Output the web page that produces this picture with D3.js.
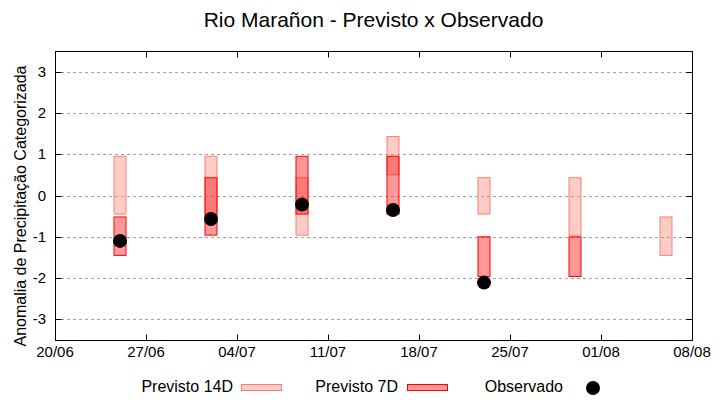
<!DOCTYPE html>
<html>
<head>
<meta charset="utf-8">
<script src="https://cdn.jsdelivr.net/npm/d3@7"></script>
<style>
  body { margin: 0; background: #fff; }
  text { font-family: "Liberation Sans", Arial, sans-serif; fill: #000; }
</style>
</head>
<body>
<div id="chart"></div>
<script>
// Forecast weeks (one bar group per week)
const dates = ["2025-06-25", "2025-07-02", "2025-07-09", "2025-07-16", "2025-07-23", "2025-07-30", "2025-08-06"];

// Previsto 14D range (top / bottom)
const prev14Top = [0.95, 0.95, 0.43, 1.43, 0.43, 0.43, -0.52];
const prev14Bot = [-0.45, -0.45, -0.96, 0.50, -0.45, -0.96, -1.45];

// Previsto 7D range (top / bottom)
const prev7Top = [-0.52, 0.43, 0.95, 0.95, -1.00, -1.00, null];
const prev7Bot = [-1.45, -0.96, -0.45, -0.45, -1.96, -1.96, null];

// Observado
const observed = [-1.10, -0.57, -0.22, -0.35, -2.11, null, null];

const xTicks = ["2025-06-20", "2025-06-27", "2025-07-04", "2025-07-11", "2025-07-18", "2025-07-25", "2025-08-01", "2025-08-08"];
const yTicks = [-3, -2, -1, 0, 1, 2, 3];

const width = 720;
const height = 400;
const margin = { top: 51, right: 28, bottom: 60, left: 55 };

const parse = d3.utcParse("%Y-%m-%d");
const fmt = d3.utcFormat("%d/%m");

const svg = d3.select("#chart")
  .append("svg")
  .attr("width", width)
  .attr("height", height);

const x = d3.scaleUtc()
  .domain([parse(xTicks[0]), parse(xTicks[xTicks.length - 1])])
  .range([margin.left, width - margin.right]);

const y = d3.scaleLinear()
  .domain([-3.5, 3.5])
  .range([height - margin.bottom, margin.top]);

// Grid lines
svg.append("g")
  .selectAll("line")
  .data(yTicks)
  .enter()
  .append("line")
  .attr("x1", margin.left)
  .attr("x2", width - margin.right)
  .attr("y1", d => Math.round(y(d)) + 0.5)
  .attr("y2", d => Math.round(y(d)) + 0.5)
  .style("stroke", "#a0a0a0")
  .style("stroke-dasharray", "3,3");

const rows = dates.map((d, i) => ({
  date: parse(d),
  t14: prev14Top[i], b14: prev14Bot[i],
  t7: prev7Top[i], b7: prev7Bot[i],
  obs: observed[i]
}));

const barW = 12;

// Previsto 14D bars
svg.append("g")
  .selectAll("rect")
  .data(rows)
  .enter()
  .append("rect")
  .attr("x", d => x(d.date) - barW / 2)
  .attr("width", barW)
  .attr("y", d => y(d.t14))
  .attr("height", d => y(d.b14) - y(d.t14))
  .style("fill", "rgba(250,128,114,0.4)")
  .style("stroke", "salmon")
  .style("stroke-width", 1);

// Previsto 7D bars
svg.append("g")
  .selectAll("rect")
  .data(rows.filter(d => d.t7 !== null))
  .enter()
  .append("rect")
  .attr("x", d => x(d.date) - barW / 2)
  .attr("width", barW)
  .attr("y", d => y(d.t7))
  .attr("height", d => y(d.b7) - y(d.t7))
  .style("fill", "rgba(255,0,0,0.4)")
  .style("stroke", "red")
  .style("stroke-width", 1);

// Observado points
svg.append("g")
  .selectAll("circle")
  .data(rows.filter(d => d.obs !== null))
  .enter()
  .append("circle")
  .attr("cx", d => x(d.date))
  .attr("cy", d => y(d.obs))
  .attr("r", 7)
  .style("fill", "#000");

// Frame
const x0 = margin.left + 0.5, x1 = width - margin.right + 0.5;
const y0 = margin.top + 0.5, y1 = height - margin.bottom + 0.5;
svg.append("rect")
  .attr("x", x0).attr("y", y0)
  .attr("width", x1 - x0).attr("height", y1 - y0)
  .style("fill", "none")
  .style("stroke", "#000");

// Tick marks (inward, mirrored)
const tickLen = 6;
const ticks = svg.append("g").style("stroke", "#000");
yTicks.forEach(v => {
  const yy = Math.round(y(v)) + 0.5;
  ticks.append("line").attr("x1", x0).attr("x2", x0 + tickLen).attr("y1", yy).attr("y2", yy);
  ticks.append("line").attr("x1", x1).attr("x2", x1 - tickLen).attr("y1", yy).attr("y2", yy);
});
xTicks.forEach(s => {
  const xx = Math.round(x(parse(s))) + 0.5;
  ticks.append("line").attr("x1", xx).attr("x2", xx).attr("y1", y1).attr("y2", y1 - tickLen);
  ticks.append("line").attr("x1", xx).attr("x2", xx).attr("y1", y0).attr("y2", y0 + tickLen);
});

// Tick labels
svg.append("g")
  .selectAll("text")
  .data(yTicks)
  .enter()
  .append("text")
  .attr("x", 46)
  .attr("y", d => y(d) + 5)
  .attr("text-anchor", "end")
  .style("font-size", "15px")
  .text(d => d);

svg.append("g")
  .selectAll("text")
  .data(xTicks)
  .enter()
  .append("text")
  .attr("x", d => x(parse(d)))
  .attr("y", 357)
  .attr("text-anchor", "middle")
  .style("font-size", "15px")
  .text(d => fmt(parse(d)));

// Title
svg.append("text")
  .attr("x", (margin.left + width - margin.right) / 2)
  .attr("y", 27)
  .attr("text-anchor", "middle")
  .style("font-size", "21px")
  .text("Rio Marañon - Previsto x Observado");

// Y axis label
svg.append("text")
  .attr("transform", "translate(26,206) rotate(-90)")
  .attr("text-anchor", "middle")
  .style("font-size", "16px")
  .text("Anomalia de Precipitação Categorizada");

// Legend
const legend = svg.append("g");
const legY = 392;
legend.append("text").attr("x", 233).attr("y", legY).attr("text-anchor", "end")
  .style("font-size", "16px").text("Previsto 14D");
legend.append("rect").attr("x", 241.5).attr("y", 384.5).attr("width", 40).attr("height", 6)
  .style("fill", "rgba(250,128,114,0.4)").style("stroke", "salmon");
legend.append("text").attr("x", 398).attr("y", legY).attr("text-anchor", "end")
  .style("font-size", "16px").text("Previsto 7D");
legend.append("rect").attr("x", 407.5).attr("y", 384.5).attr("width", 40).attr("height", 6)
  .style("fill", "rgba(255,0,0,0.4)").style("stroke", "red");
legend.append("text").attr("x", 563).attr("y", legY).attr("text-anchor", "end")
  .style("font-size", "16px").text("Observado");
legend.append("circle").attr("cx", 593).attr("cy", 388).attr("r", 7).style("fill", "#000");
</script>
</body>
</html>
